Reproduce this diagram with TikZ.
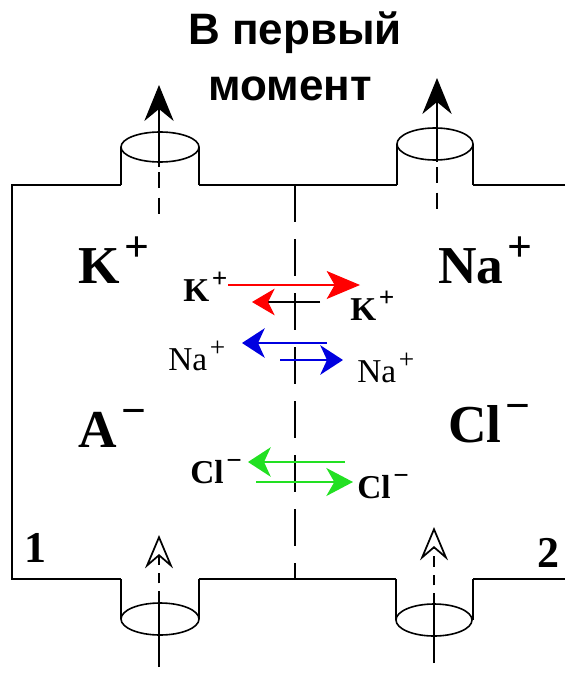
\documentclass[tikz,border=0pt]{standalone}
\usepackage{fontspec}
\setmainfont{Liberation Serif}
\newfontfamily\titlefont{Liberation Sans}
\usetikzlibrary{arrows.meta,positioning}
\definecolor{ionred}{HTML}{FF0000}
\definecolor{ionblue}{HTML}{0000E0}
\definecolor{iongreen}{HTML}{22E022}
\newcommand{\ion}[2]{#1\kern0.08em\raisebox{0.4em}{\scalebox{0.82}{#2}}}

\begin{document}
\begin{tikzpicture}[
  x=0.75pt, y=-0.75pt,
  wall/.style={line width=1pt},
  pipe/.style={line width=1.6pt},
  ring/.style={line width=1.2pt},
  membrane/.style={line width=0.9pt, dash pattern=on 28pt off 12.5pt},
  axisdash/.style={line width=1.2pt, dash pattern=on 12pt off 7pt},
  uparr/.style={-{Stealth[length=27pt,width=22pt,inset=9pt]}, line width=1.3pt},
  openarr/.style={-{Stealth[open,length=25pt,width=21pt,inset=9pt]}, line width=1.3pt, dash pattern=on 8pt off 6pt},
  titletext/.style={anchor=base, inner sep=0pt, font=\titlefont\fontsize{33}{36}\selectfont\bfseries},
  bigion/.style={anchor=base west, inner sep=0pt, font=\fontsize{40}{40}\selectfont\bfseries},
  smallion/.style={anchor=base west, inner sep=0pt, font=\fontsize{25}{25}\selectfont\bfseries},
  numlbl/.style={anchor=base west, inner sep=0pt, font=\fontsize{33}{33}\selectfont\bfseries},
  flow/.style={-{Stealth[length=17pt,width=22pt,inset=5pt]}}
]
\useasboundingbox (0,0) rectangle (565,674);

% title
\node[titletext] (title) at (295,45) {В первый};
\node[titletext] (moment) at (290,100) {момент};

% vessel outline with the four pipes
\draw[wall] (565,185) -- (473,185) (397,185) -- (199,185) (121,185) -- (12,185)
  -- (12,579) -- (121,579) (199,579) -- (396,579) (473,579) -- (565,579);
\draw[pipe] (121,185) -- (121,147) (199,185) -- (199,147);
\draw[pipe] (397,185) -- (397,144) (473,185) -- (473,144);
\draw[pipe] (121,579) -- (121,619) (199,579) -- (199,619);
\draw[pipe] (396,579) -- (396,620) (473,579) -- (473,620);
\draw[ring] (160,147) ellipse [x radius=39, y radius=15];
\draw[ring] (435,144) ellipse [x radius=38, y radius=16];
\draw[ring] (160,619) ellipse [x radius=39, y radius=16];
\draw[ring] (434,620) ellipse [x radius=38, y radius=16];

% axes of the pipes
\coordinate (ltTip) at (159,85);
\coordinate (ltRing) at (159,167);
\coordinate (ltEnd) at (159,215);
\coordinate (rtTip) at (437,78);
\coordinate (rtRing) at (437,162);
\coordinate (rtEnd) at (437,213);
\coordinate (lbTip) at (159,535);
\coordinate (lbRing) at (159,602);
\coordinate (lbEnd) at (159,667);
\coordinate (rbTip) at (434,527);
\coordinate (rbRing) at (434,604);
\coordinate (rbEnd) at (434,663);
\draw[uparr] (ltRing) -- (ltTip);
\draw[axisdash] ([yshift=-4pt]ltRing) -- (ltEnd);
\draw[uparr] (rtRing) -- (rtTip);
\draw[axisdash] ([yshift=-4pt]rtRing) -- (rtEnd);
\draw[line width=1.2pt] (lbEnd) -- (lbRing);
\draw[openarr] (lbRing) -- (lbTip);
\draw[line width=1.2pt] (rbEnd) -- (rbRing);
\draw[openarr] (rbRing) -- (rbTip);

% membrane
\coordinate (memTop) at (295,185);
\coordinate (memBot) at (295,579);
\draw[membrane] (memTop) -- (memBot);

% compartment contents
\node[bigion] (kLeft) at (78,283) {\ion{K}{+}};
\node[bigion] (naRight) at (438,283) {\ion{Na}{+}};
\node[bigion] (aLeft) at (78,447) {\ion{A}{−}};
\node[bigion] (clRight) at (448,442) {\ion{Cl}{−}};
\node[numlbl] (one) at (24,562) {1};
\node[numlbl] (two) at (537,567) {2};

% ion fluxes
\node[smallion] (kIn) at (183,301) {\ion{K}{+}};
\node[smallion] (kOut) at (350,320) {\ion{K}{+}};
\node[smallion, font=\fontsize{25}{25}\selectfont] (naIn) at (168,370) {\ion{Na}{+}};
\node[smallion, font=\fontsize{25}{25}\selectfont] (naOut) at (357,382) {\ion{Na}{+}};
\node[smallion] (clIn) at (190,483) {\ion{Cl}{−}};
\node[smallion] (clOut) at (357,498) {\ion{Cl}{−}};

\coordinate (kFwdA) at (228,285);
\coordinate (kFwdB) at (360,285);
\coordinate (kBackA) at (320,302);
\coordinate (kBackB) at (252,302);
\coordinate (naBackA) at (327,343);
\coordinate (naBackB) at (242,343);
\coordinate (naFwdA) at (280,360);
\coordinate (naFwdB) at (343,360);
\coordinate (clBackA) at (345,462);
\coordinate (clBackB) at (248,462);
\coordinate (clFwdA) at (256,482);
\coordinate (clFwdB) at (353,482);
\draw[-{Stealth[length=25pt,width=21pt,inset=6pt]}, ionred, line width=0.8pt] (kFwdA) -- (kFwdB);
\draw[-{Stealth[length=17pt,width=20pt,inset=5pt,color=ionred]}, line width=0.8pt] (kBackA) -- (kBackB);
\draw[flow, ionblue, line width=2.2pt] (naBackA) -- (naBackB);
\draw[flow, ionblue, line width=2.2pt] (naFwdA) -- (naFwdB);
\draw[flow, iongreen, line width=2.2pt] (clBackA) -- (clBackB);
\draw[-{Stealth[length=20pt,width=21pt,inset=6pt]}, iongreen, line width=1.5pt] (clFwdA) -- (clFwdB);
\end{tikzpicture}
\end{document}
